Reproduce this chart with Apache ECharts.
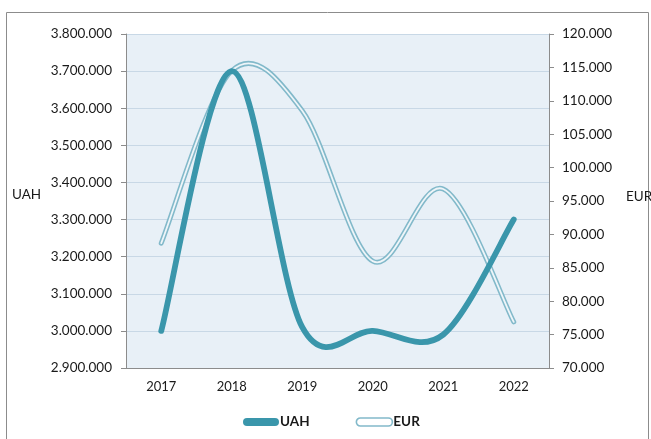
<!DOCTYPE html>
<html>
<head>
<meta charset="utf-8">
<style>
  html, body { margin: 0; padding: 0; background: #fff; }
  #chart { width: 651px; height: 439px; }
</style>
<script src="https://cdn.jsdelivr.net/npm/echarts@6/dist/echarts.min.js"></script>
</head>
<body>
<div id="chart"></div>
<script>
// Categories and series values
const years = ['2017', '2018', '2019', '2020', '2021', '2022'];
const uah = [3000000, 3700000, 3010000, 3000000, 2990000, 3300000];
const eur = [88700, 114500, 108500, 86000, 96800, 76900];

// Tick values of the two value axes
const uahTicks = [2900000, 3000000, 3100000, 3200000, 3300000, 3400000, 3500000, 3600000, 3700000, 3800000];
const eurTicks = [70000, 75000, 80000, 85000, 90000, 95000, 100000, 105000, 110000, 115000, 120000];

const FONT = 'Lato, "Open Sans", "Liberation Sans", sans-serif';
const UAH_COLOR = '#3a96ab';
const EUR_OUTER = '#82b9ca';
const EUR_INNER = '#eef5f9';

// thousands separated with dots: 3800000 -> 3.800.000
function fmt(v) {
  return String(Math.round(v)).replace(/\B(?=(\d{3})+(?!\d))/g, '.');
}

// Smooth path through all points (cardinal / Catmull-Rom style Bezier),
// computed in pixel space from the axis coordinates.
function smoothPath(values, api) {
  const n = values.length;
  const pts = values.map((v, k) => api.coord([k, v]));
  let d = 'M' + pts[0][0] + ',' + pts[0][1];
  for (let i = 0; i < n - 1; i++) {
    const p0 = pts[i], p1 = pts[i + 1];
    const pm = pts[Math.max(i - 1, 0)];
    const pn = pts[Math.min(i + 2, n - 1)];
    const c1 = [p0[0] + (p1[0] - pm[0]) / 6, p0[1] + (p1[1] - pm[1]) / 6];
    const c2 = [p1[0] - (pn[0] - p0[0]) / 6, p1[1] - (pn[1] - p0[1]) / 6];
    d += ' C' + c1[0] + ',' + c1[1] + ' ' + c2[0] + ',' + c2[1] + ' ' + p1[0] + ',' + p1[1];
  }
  return d;
}

function curveRenderer(values, strokes) {
  return function (params, api) {
    if (params.dataIndex !== 0) return null;
    const d = smoothPath(values, api);
    return {
      type: 'group',
      children: strokes.map(s => ({
        type: 'path',
        shape: { pathData: d },
        style: { fill: null, stroke: s.color, lineWidth: s.width, lineCap: 'round', lineJoin: 'round' }
      }))
    };
  };
}

const PILL = 'path://M4,0 L32,0 A4,4 0 0 1 32,8 L4,8 A4,4 0 0 1 4,0 Z';

const chart = echarts.init(document.getElementById('chart'));
chart.setOption({
  animation: false,
  backgroundColor: '#ffffff',
  textStyle: { fontFamily: FONT },
  grid: {
    left: 126, right: 102, top: 34, bottom: 71,
    show: true, backgroundColor: '#e8f0f7', borderWidth: 0
  },
  legend: {
    left: 238, top: 410,
    itemWidth: 36, itemHeight: 8, itemGap: 46,
    textStyle: { fontFamily: FONT, fontSize: 13.5, fontWeight: 'bold', color: '#1a1a1a', padding: [0, 0, 0, -4] },
    data: [
      { name: 'UAH', icon: PILL, itemStyle: { color: UAH_COLOR, borderWidth: 0 } },
      { name: 'EUR', icon: PILL, itemStyle: { color: '#ffffff', borderColor: EUR_OUTER, borderWidth: 1.6 } }
    ]
  },
  xAxis: {
    type: 'category',
    data: years,
    boundaryGap: true,
    axisLine: { lineStyle: { color: '#8c8c8c', width: 1 } },
    axisTick: { alignWithLabel: true, length: 5, lineStyle: { color: '#8c8c8c' } },
    axisLabel: { margin: 12, fontSize: 13, color: '#1a1a1a', fontFamily: FONT },
    splitLine: { show: false }
  },
  yAxis: [
    {
      type: 'value',
      position: 'left',
      min: uahTicks[0], max: uahTicks[uahTicks.length - 1], interval: uahTicks[1] - uahTicks[0],
      axisLine: { show: true, lineStyle: { color: '#8c8c8c', width: 1 } },
      axisTick: { show: true, length: 5, lineStyle: { color: '#8c8c8c' } },
      axisLabel: { margin: 14, fontSize: 13.5, color: '#1a1a1a', fontFamily: FONT, formatter: fmt },
      splitLine: { show: true, lineStyle: { color: '#c8d8e6', width: 1 } }
    },
    {
      type: 'value',
      position: 'right',
      alignTicks: false,
      min: eurTicks[0], max: eurTicks[eurTicks.length - 1], interval: eurTicks[1] - eurTicks[0],
      axisLine: { show: true, lineStyle: { color: '#8c8c8c', width: 1 } },
      axisTick: { show: true, length: 5, lineStyle: { color: '#8c8c8c' } },
      axisLabel: { margin: 13, fontSize: 13.5, color: '#1a1a1a', fontFamily: FONT, formatter: fmt },
      splitLine: { show: false }
    }
  ],
  series: [
    {
      name: 'UAH',
      type: 'custom',
      coordinateSystem: 'cartesian2d',
      xAxisIndex: 0, yAxisIndex: 0,
      itemStyle: { color: UAH_COLOR },
      encode: { x: 0, y: 1 },
      data: uah.map((v, i) => [i, v]),
      renderItem: curveRenderer(uah, [{ color: UAH_COLOR, width: 5.8 }]),
      z: 3
    },
    {
      name: 'EUR',
      type: 'custom',
      coordinateSystem: 'cartesian2d',
      xAxisIndex: 0, yAxisIndex: 1,
      itemStyle: { color: EUR_OUTER },
      encode: { x: 0, y: 1 },
      data: eur.map((v, i) => [i, v]),
      renderItem: curveRenderer(eur, [{ color: EUR_OUTER, width: 5 }, { color: EUR_INNER, width: 1.8 }]),
      z: 2
    }
  ],
  graphic: [
    {
      type: 'rect',
      shape: { x: 6.5, y: 12.5, width: 642, height: 460 },
      style: { fill: null, stroke: '#8c8c8c', lineWidth: 1 },
      silent: true, z: -1
    },
    {
      type: 'text', left: 12, top: 188,
      style: { text: 'UAH', font: '13.5px ' + FONT, fill: '#1a1a1a' }
    },
    {
      type: 'text', left: 626, top: 190,
      style: { text: 'EUR', font: '13.5px ' + FONT, fill: '#1a1a1a' }
    }
  ]
});
</script>
</body>
</html>
